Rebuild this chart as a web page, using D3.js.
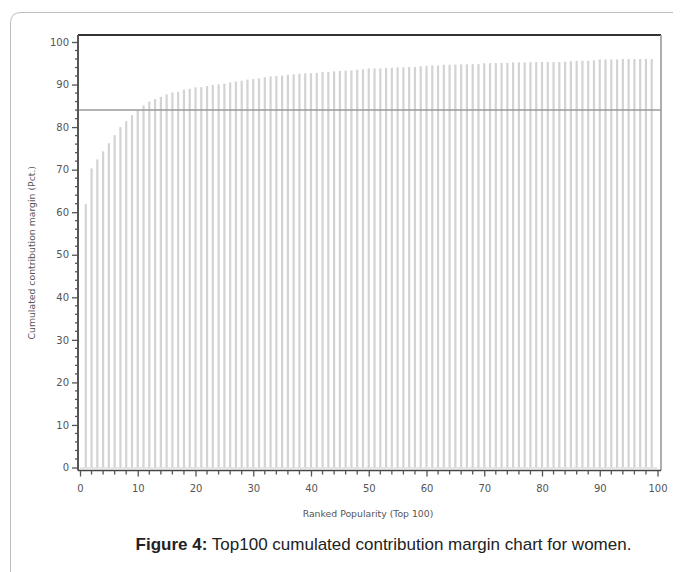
<!DOCTYPE html>
<html>
<head>
<meta charset="utf-8">
<script src="https://cdn.jsdelivr.net/npm/d3@7/dist/d3.min.js"></script>
<style>
  html, body { margin: 0; padding: 0; background: #fff; }
  svg { display: block; }
</style>
</head>
<body>
<svg id="chart" width="683" height="572"></svg>
<script>
// Rank positions (top 100 products, ranked by popularity)
const ranks = d3.range(1, 100);

// Cumulated contribution margin in percent, per rank
const cumMargin = [
  61.9, 70.3, 72.4, 74.3, 76.2, 78.1, 80.0, 81.4, 82.8, 84.0,
  85.1, 86.0, 86.6, 87.1, 87.7, 88.15, 88.3, 88.8, 89.0, 89.35,
  89.4, 89.65, 89.9, 90.05, 90.2, 90.5, 90.7, 90.9, 91.15, 91.3,
  91.45, 91.7, 91.9, 92.0, 92.1, 92.3, 92.4, 92.55, 92.6, 92.65,
  92.7, 92.95, 92.95, 93.1, 93.2, 93.25, 93.3, 93.5, 93.6, 93.8,
  93.8, 93.8, 93.9, 93.95, 94.05, 94.05, 94.1, 94.15, 94.3, 94.4,
  94.5, 94.5, 94.65, 94.65, 94.7, 94.75, 94.75, 94.8, 94.8, 95.0,
  95.05, 95.05, 95.1, 95.1, 95.2, 95.2, 95.2, 95.25, 95.25, 95.3,
  95.3, 95.3, 95.3, 95.35, 95.5, 95.6, 95.6, 95.6, 95.7, 95.9,
  95.9, 95.9, 95.9, 96.0, 96.0, 96.0, 96.0, 96.0, 96.0
];

// Reference level drawn across the plot
const referenceLevel = 84;

// Tick values
const majorTicks = d3.range(0, 101, 10);
const minorTicks = d3.range(0, 101, 2).filter(v => v % 10 !== 0);

const xTitle = "Ranked Popularity (Top 100)";
const yTitle = "Cumulated contribution margin (Pct.)";
const captionBold = "Figure 4:";
const captionText = " Top100 cumulated contribution margin chart for women.";

const svg = d3.select("#chart");
const frame = { left: 78, right: 661, top: 35, bottom: 470.5 };

const x = d3.scaleLinear().domain([0, 100]).range([80, 657.5]);
const y = d3.scaleLinear().domain([0, 100]).range([467.5, 42]);

// Card outline (top and left edge with rounded corner)
svg.append("path")
  .attr("d", "M10.5,572 L10.5,23 Q10.5,12.5 21,12.5 L673,12.5")
  .attr("fill", "none")
  .attr("stroke", "#bdbdbd")
  .attr("stroke-width", 1);

const tickFont = "DejaVu Sans, Verdana, sans-serif";

// Bars (needles)
const barW = 2.2;
svg.append("g")
  .selectAll("rect")
  .data(ranks)
  .join("rect")
  .attr("x", (d) => x(d) - barW / 2)
  .attr("width", barW)
  .attr("y", (d, i) => y(cumMargin[i]))
  .attr("height", (d, i) => y(0) - y(cumMargin[i]))
  .attr("fill", "#d3d3d3");

// Baseline under the bars
svg.append("line")
  .attr("x1", x(0)).attr("x2", x(100))
  .attr("y1", y(0) + 0.5).attr("y2", y(0) + 0.5)
  .attr("stroke", "#cfcfcf").attr("stroke-width", 1.2);

// Reference line
svg.append("line")
  .attr("x1", frame.left).attr("x2", frame.right)
  .attr("y1", y(referenceLevel)).attr("y2", y(referenceLevel))
  .attr("stroke", "#9a9a9a").attr("stroke-width", 1.5);

// Plot frame
svg.append("line").attr("x1", frame.left).attr("x2", frame.right)
  .attr("y1", frame.top).attr("y2", frame.top)
  .attr("stroke", "#333").attr("stroke-width", 2);
svg.append("line").attr("x1", frame.right).attr("x2", frame.right)
  .attr("y1", frame.top).attr("y2", frame.bottom)
  .attr("stroke", "#999").attr("stroke-width", 1.6);

// Y axis
const yAxis = svg.append("g")
  .attr("transform", `translate(${frame.left},0)`)
  .call(d3.axisLeft(y).tickValues(majorTicks).tickSize(6).tickPadding(3).tickSizeOuter(0));
yAxis.select(".domain").attr("stroke", "#555").attr("stroke-width", 2)
  .attr("d", `M0,${frame.top}V${frame.bottom}`);
yAxis.selectAll(".tick line").attr("stroke", "#555").attr("stroke-width", 1.3);
yAxis.selectAll(".tick text")
  .attr("font-family", tickFont).attr("font-size", 10).attr("fill", "#555");
yAxis.append("g").selectAll("line")
  .data(minorTicks).join("line")
  .attr("x1", -3).attr("x2", 0)
  .attr("y1", (d) => y(d)).attr("y2", (d) => y(d))
  .attr("stroke", "#555").attr("stroke-width", 1.3);

// X axis
const xAxis = svg.append("g")
  .attr("transform", `translate(0,${frame.bottom})`)
  .call(d3.axisBottom(x).tickValues(majorTicks).tickSize(6).tickPadding(8).tickSizeOuter(0));
xAxis.select(".domain").attr("stroke", "#444").attr("stroke-width", 1.6)
  .attr("d", `M${frame.left},0H${frame.right}`);
xAxis.selectAll(".tick line").attr("stroke", "#555").attr("stroke-width", 1.3);
xAxis.selectAll(".tick text")
  .attr("font-family", tickFont).attr("font-size", 10).attr("fill", "#555");
xAxis.append("g").selectAll("line")
  .data(minorTicks).join("line")
  .attr("x1", (d) => x(d)).attr("x2", (d) => x(d))
  .attr("y1", 0).attr("y2", 4)
  .attr("stroke", "#555").attr("stroke-width", 1.3);

// Axis titles
svg.append("text")
  .attr("x", 368)
  .attr("y", 517)
  .attr("text-anchor", "middle")
  .attr("font-family", tickFont).attr("font-size", 9.3).attr("fill", "#555")
  .text(xTitle);

svg.append("text")
  .attr("transform", `translate(35,${(frame.top + frame.bottom) / 2}) rotate(-90)`)
  .attr("text-anchor", "middle")
  .attr("font-family", tickFont).attr("font-size", 9.3).attr("fill", "#555")
  .text(yTitle);

// Caption
const cap = svg.append("text")
  .attr("x", 383.5).attr("y", 550)
  .attr("text-anchor", "middle")
  .attr("font-family", "Liberation Sans, Arial, sans-serif")
  .attr("font-size", 17).attr("fill", "#222");
cap.append("tspan").attr("font-weight", "bold").text(captionBold);
cap.append("tspan").text(captionText);
</script>
</body>
</html>
